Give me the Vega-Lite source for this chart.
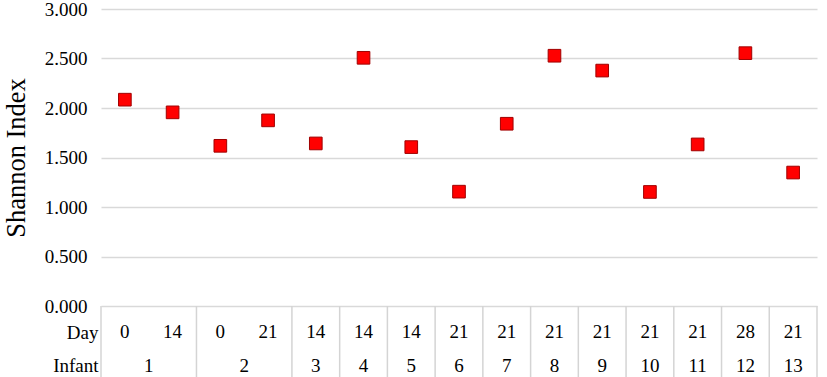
{
  "$schema": "https://vega.github.io/schema/vega-lite/v6.json",
  "padding": {"left": 3, "top": 0, "right": 9, "bottom": 0},
  "background": "white",
  "config": {
    "view": {"stroke": null},
    "font": "Liberation Serif",
    "text": {"font": "Liberation Serif"},
    "axis": {"labelFont": "Liberation Serif", "titleFont": "Liberation Serif"}
  },
  "datasets": {
    "pts": [
      {"idx": 1, "infant": "1", "day": "0", "shannon": 2.084},
      {"idx": 2, "infant": "1", "day": "14", "shannon": 1.956},
      {"idx": 3, "infant": "2", "day": "0", "shannon": 1.618},
      {"idx": 4, "infant": "2", "day": "21", "shannon": 1.875},
      {"idx": 5, "infant": "3", "day": "14", "shannon": 1.642},
      {"idx": 6, "infant": "4", "day": "14", "shannon": 2.507},
      {"idx": 7, "infant": "5", "day": "14", "shannon": 1.605},
      {"idx": 8, "infant": "6", "day": "21", "shannon": 1.155},
      {"idx": 9, "infant": "7", "day": "21", "shannon": 1.841},
      {"idx": 10, "infant": "8", "day": "21", "shannon": 2.528},
      {"idx": 11, "infant": "9", "day": "21", "shannon": 2.378},
      {"idx": 12, "infant": "10", "day": "21", "shannon": 1.152},
      {"idx": 13, "infant": "11", "day": "21", "shannon": 1.632},
      {"idx": 14, "infant": "12", "day": "28", "shannon": 2.554},
      {"idx": 15, "infant": "13", "day": "21", "shannon": 1.348}
    ]
  },
  "bounds": "flush",
  "spacing": 0,
  "vconcat": [
    {
      "width": 716,
      "height": 297,
      "data": {"name": "pts"},
      "mark": {"type": "square", "size": 160, "filled": true, "color": "#ff0000", "stroke": "#a00000", "strokeWidth": 1, "opacity": 1},
      "encoding": {
        "x": {"field": "idx", "type": "quantitative", "scale": {"domain": [0.5, 15.5], "nice": false, "zero": false}, "axis": null},
        "y": {
          "field": "shannon",
          "type": "quantitative",
          "scale": {"domain": [0, 3], "nice": false},
          "axis": {
            "values": [0, 0.5, 1, 1.5, 2, 2.5, 3],
            "format": ".3f",
            "grid": true,
            "gridColor": "#d9d9d9",
            "gridWidth": 1.5,
            "domain": false,
            "ticks": false,
            "labelFont": "Liberation Serif",
            "labelFontSize": 19,
            "labelColor": "#000000",
            "labelPadding": 14,
            "title": "Shannon Index",
            "titleFont": "Liberation Serif",
            "titleFontSize": 26.5,
            "titleFontWeight": "normal",
            "titleColor": "#000000",
            "titlePadding": 14
          }
        }
      }
    },
    {
      "width": 716,
      "height": 74,
      "data": {"name": "pts"},
      "resolve": {"scale": {"x": "independent"}},
      "layer": [
        {
          "transform": [
            {"joinaggregate": [{"op": "min", "field": "idx", "as": "first"}], "groupby": ["infant"]},
            {"filter": "datum.idx == datum.first"}
          ],
          "mark": {"type": "rule", "color": "#d4d4d4", "strokeWidth": 1.5},
          "encoding": {
            "x": {"field": "idx", "type": "ordinal", "bandPosition": 0, "scale": {"domain": [1,2,3,4,5,6,7,8,9,10,11,12,13,14,15], "paddingInner": 0, "paddingOuter": 0}, "axis": null}
          }
        },
        {
          "transform": [{"filter": "datum.idx == 15"}],
          "mark": {"type": "rule", "color": "#d4d4d4", "strokeWidth": 1.5},
          "encoding": {
            "x": {"field": "idx", "type": "ordinal", "bandPosition": 1, "scale": {"domain": [1,2,3,4,5,6,7,8,9,10,11,12,13,14,15], "paddingInner": 0, "paddingOuter": 0}, "axis": null}
          }
        },
        {
          "mark": {"type": "text", "fontSize": 19, "color": "#000000", "baseline": "middle"},
          "encoding": {
            "x": {"field": "idx", "type": "quantitative", "scale": {"domain": [0.5, 15.5], "nice": false, "zero": false}, "axis": null},
            "y": {
              "datum": "Day",
              "type": "nominal",
              "scale": {"type": "point", "domain": ["Day", "Infant"], "padding": 0.6, "align": 0.65},
              "axis": {"domain": false, "ticks": false, "grid": false, "labelFont": "Liberation Serif", "labelFontSize": 19, "labelColor": "#000000", "labelPadding": 3, "title": null}
            },
            "text": {"field": "day"}
          }
        },
        {
          "mark": {"type": "text", "fontSize": 19, "color": "#000000", "baseline": "middle"},
          "encoding": {
            "x": {"field": "idx", "aggregate": "mean", "type": "quantitative", "scale": {"domain": [0.5, 15.5], "nice": false, "zero": false}, "axis": null},
            "y": {"datum": "Infant", "type": "nominal"},
            "text": {"field": "infant"}
          }
        }
      ]
    }
  ]
}
